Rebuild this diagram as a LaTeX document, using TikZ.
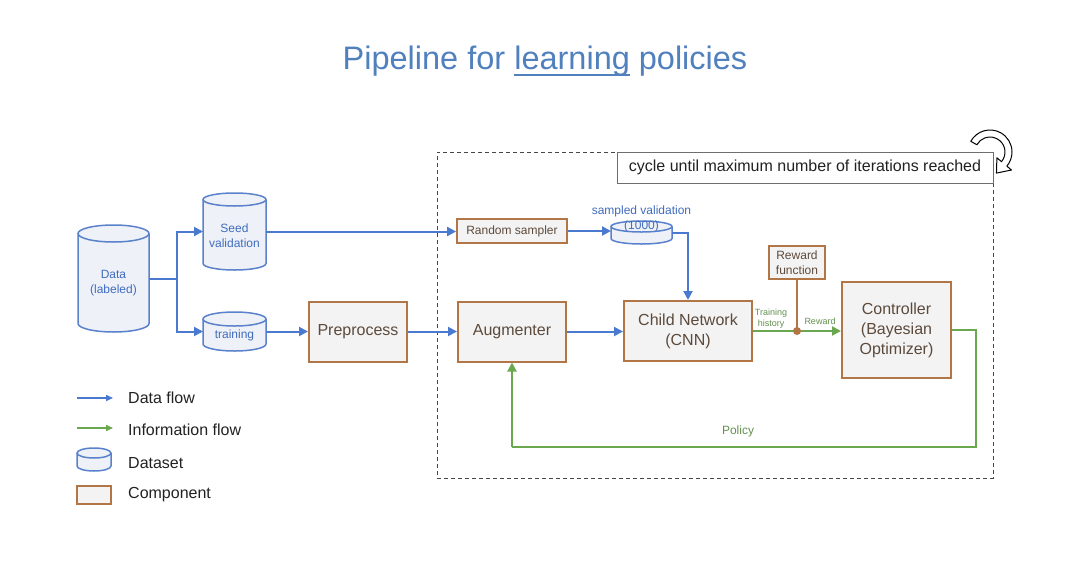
\documentclass[tikz,border=0pt]{standalone}
\usepackage{fontspec}
\setmainfont{Liberation Sans}
\usetikzlibrary{arrows.meta,calc,backgrounds}
\definecolor{flowblue}{RGB}{74,122,208}
\definecolor{cylblue}{RGB}{90,130,204}
\definecolor{cylfill}{RGB}{238,241,247}
\definecolor{cyltext}{RGB}{64,108,190}
\definecolor{infogreen}{RGB}{106,168,79}
\definecolor{greentext}{RGB}{100,145,80}
\definecolor{compborder}{RGB}{178,118,70}
\definecolor{compfill}{RGB}{243,243,243}
\definecolor{comptext}{RGB}{92,74,60}
\definecolor{titleblue}{RGB}{80,128,190}
\definecolor{legendtext}{RGB}{34,34,34}
\definecolor{boxgray}{RGB}{110,110,110}
\definecolor{dashgray}{RGB}{70,70,70}
\newlength\ullen
\newcommand\cylshape[3]{%
  \fill[cylfill] ($(#1.north west)+(0,-#3)$) -- ($(#1.south west)+(0,#3)$) arc (180:360:#2 and #3) -- ($(#1.north east)+(0,-#3)$) arc (0:180:#2 and #3) -- cycle;
  \draw[cylblue, line width=1.5pt] ($(#1.north west)+(0,-#3)$) -- ($(#1.south west)+(0,#3)$) arc (180:360:#2 and #3) -- ($(#1.north east)+(0,-#3)$);
  \draw[cylblue, line width=1.5pt] ($(#1.north)+(0,-#3)$) ellipse (#2 and #3);
}
\tikzset{
  ds/.style={inner sep=0pt, outer sep=0pt},
  dstext/.style={text=cyltext, align=center, font=\fontsize{12}{15}\selectfont},
  comp/.style={draw=compborder, fill=compfill, line width=2pt, text=comptext, inner sep=0pt, align=center, font=\fontsize{16}{20}\selectfont},
  smallcomp/.style={comp, line width=1.8pt, font=\fontsize{12}{14.5}\selectfont},
  flowline/.style={flowblue, line width=2pt},
  flow/.style={flowline, -{Triangle[length=9pt,width=9pt]}},
  info/.style={infogreen, line width=2pt, -{Triangle[length=9pt,width=9pt]}},
  infoline/.style={infogreen, line width=2pt},
  greenlbl/.style={text=greentext, inner sep=0pt, align=center},
  legendlbl/.style={text=legendtext, anchor=west, inner sep=0pt, font=\fontsize{16}{19}\selectfont},
}
\begin{document}
\begin{tikzpicture}[x=1pt,y=1pt]
\useasboundingbox (0,0) rectangle (1080,-563);

% title
\node[anchor=base, text=titleblue, inner sep=0pt, font=\fontsize{32.5}{38}\selectfont] (title) at (545,-69)
  {Pipeline for \settowidth{\ullen}{learning}\rlap{\rule[-6.5pt]{\ullen}{1.8pt}}learning policies};

% loop region
\node[draw=dashgray, dashed, dash pattern=on 4pt off 3pt, line width=1pt, minimum width=556pt, minimum height=326pt, inner sep=0pt] (loop) at (715,-315) {};
\node[draw=boxgray, fill=white, line width=1pt, minimum width=376pt, minimum height=31pt, inner sep=0pt, anchor=north east, text=legendtext, font=\fontsize{16}{19}\selectfont] (cycle) at (loop.north east) {cycle until maximum number of iterations reached};

% datasets
\node[ds, minimum width=71pt, minimum height=107pt, label={[dstext, yshift=-4.5pt]center:{Data\\(labeled)}}] (data) at (113.5,-278.5) {};
\node[ds, minimum width=63pt, minimum height=77pt, label={[dstext, yshift=-4pt]center:{Seed\\validation}}] (seed) at (234.5,-231.5) {};
\node[ds, minimum width=63pt, minimum height=39pt, label={[dstext, yshift=-4pt]center:{training}}] (train) at (234.5,-331.5) {};
\node[ds, minimum width=61pt, minimum height=23pt, label={[dstext, yshift=6pt]center:{(1000)}}] (sv) at (641.5,-232.5) {};
\node[dstext, inner sep=0pt] (svlbl) at (641.5,-211) {sampled validation};
\node[ds, minimum width=34pt, minimum height=23pt] (lgds) at (94,-459.5) {};
\begin{pgfonlayer}{background}
\fill[white] (0,0) rectangle (1080,-563);
\cylshape{data}{35.5}{8.5}
\cylshape{seed}{31.5}{6.5}
\cylshape{train}{31.5}{7}
\cylshape{sv}{30.5}{5.5}
\cylshape{lgds}{17}{5}
\end{pgfonlayer}

% components
\node[comp, minimum width=98pt, minimum height=60pt] (pre) at (358,-331.5) {Preprocess};
\node[comp, minimum width=108pt, minimum height=60pt] (aug) at (512,-331.5) {Augmenter};
\node[comp, minimum width=128pt, minimum height=60pt] (child) at (688,-331) {Child Network\\(CNN)};
\node[comp, minimum width=109pt, minimum height=96pt] (ctrl) at (896.5,-330) {Controller\\(Bayesian\\Optimizer)};
\node[smallcomp, minimum width=110pt, minimum height=24pt] (rs) at (512,-231) {Random sampler};
\node[smallcomp, minimum width=56pt, minimum height=33pt] (rf) at (797,-262.5) {Reward\\function};

% data flow
\coordinate (split) at (177,-278.5);
\draw[flowline] (data.east) -- (split);
\draw[flow] (split) |- (seed.west);
\draw[flow] (split) |- (train.west);
\draw[flow] (train.east) -- (train.east -| pre.west);
\draw[flow] (seed.east) -- (seed.east -| rs.west);
\draw[flow] (rs.east) -- (rs.east -| sv.west);
\draw[flow] (sv.east) -| (child.north);
\draw[flow] (pre.east) -- (aug.west);
\draw[flow] (aug.east) -- (aug.east -| child.west);

% information flow
\coordinate (dot) at (797,-331);
\draw[info] (child.east) -- (child.east -| ctrl.west);
\draw[compborder, line width=2pt] (rf.south) -- (dot);
\fill[compborder] (dot) circle (4pt);
\node[greenlbl, font=\fontsize{9}{11}\selectfont] (th) at (771,-319) {Training\\history};
\node[greenlbl, font=\fontsize{9}{11}\selectfont] (rw) at (820,-321.5) {Reward};
\coordinate (pr) at (976,-447);
\coordinate (pl) at (aug.south |- pr);
\draw[infoline] (ctrl.east) -- (ctrl.east -| pr) -- (pr) -- (pl);
\draw[info] (pl) -- (aug.south);
\node[greenlbl, font=\fontsize{12}{14}\selectfont] (policy) at (738,-431) {Policy};

% cycle arrow
\draw[black, fill=white, line width=1pt, line join=round]
  (970.76,-141.33) arc (151:-40:22) -- (1011.45,-170.0) -- (996.45,-173.08) -- (996.9,-157.8) -- (1001.49,-161.64) arc (-40:151:15) -- cycle;

% legend
\coordinate (lga) at (77,-398);
\coordinate (lgb) at (113,-398);
\coordinate (lgc) at (77,-428);
\coordinate (lgd) at (113,-428);
\draw[flowblue, line width=1.5pt, -{Triangle[length=7pt,width=6pt]}] (lga) -- (lgb);
\draw[infogreen, line width=1.5pt, -{Triangle[length=7pt,width=6pt]}] (lgc) -- (lgd);
\node[comp, line width=1.8pt, minimum width=34pt, minimum height=18pt] (lgcomp) at (94,-495) {};
\node[legendlbl] (l1) at (128,-398) {Data flow};
\node[legendlbl] (l2) at (128,-430) {Information flow};
\node[legendlbl] (l3) at (128,-463) {Dataset};
\node[legendlbl] (l4) at (128,-495) {Component};
\end{tikzpicture}
\end{document}
